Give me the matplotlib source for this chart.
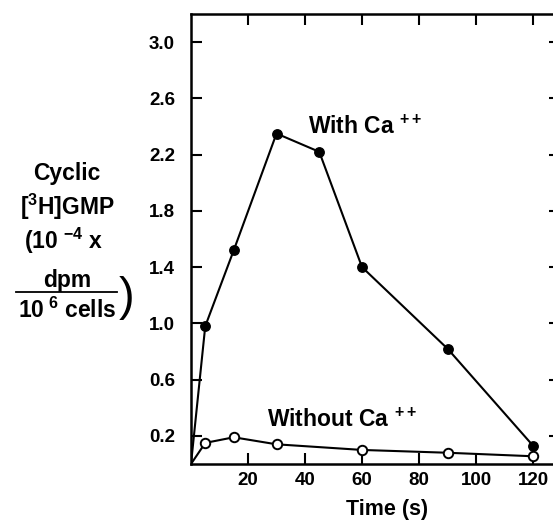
import matplotlib
matplotlib.use('Agg')
import matplotlib.pyplot as plt
from matplotlib.lines import Line2D

plt.rcParams['font.family'] = ['Liberation Sans', 'DejaVu Sans']
plt.rcParams['font.weight'] = 'bold'
plt.rcParams['axes.labelweight'] = 'bold'
plt.rcParams['mathtext.fontset'] = 'custom'
plt.rcParams['mathtext.rm'] = 'Liberation Sans:bold'
plt.rcParams['mathtext.it'] = 'Liberation Sans:bold'
plt.rcParams['mathtext.bf'] = 'Liberation Sans:bold'

# cyclic [3H]GMP (10^-4 x dpm / 10^6 cells) over time (s)
time_s = [0, 5, 15, 30, 45, 60, 90, 120]
with_ca = [0.0, 0.98, 1.52, 2.35, 2.22, 1.40, 0.82, 0.13]
time_s_no_ca = [0, 5, 15, 30, 60, 90, 120]
without_ca = [0.0, 0.15, 0.19, 0.14, 0.10, 0.08, 0.055]

x_ticks = [20, 40, 60, 80, 100, 120]
y_ticks = [0.2, 0.6, 1.0, 1.4, 1.8, 2.2, 2.6, 3.0]

fig = plt.figure(figsize=(5.53, 5.2), dpi=100)
W, H = 553, 520
ax = fig.add_axes([191 / W, 1 - 464 / H, 362 / W, 450 / H])

ax.plot(time_s, with_ca, color='black', lw=1.5, marker='o', ms=6.8,
        markevery=slice(1, None), mfc='black', mec='black')
ax.plot(time_s_no_ca, without_ca, color='black', lw=1.5, marker='o', ms=6.8,
        markevery=slice(1, None), mfc='white', mec='black', mew=1.4)

ax.set_xlim(0, 127)
ax.set_ylim(0, 3.2)
ax.set_xticks(x_ticks)
ax.set_yticks(y_ticks)
ax.set_yticklabels(['%.1f' % v for v in y_ticks])

for s in ['left', 'bottom', 'top']:
    ax.spines[s].set_linewidth(1.8)
ax.spines['right'].set_visible(False)

ax.tick_params(axis='both', direction='in', labelsize=13.5, width=1.5)
ax.tick_params(axis='x', length=8, pad=6, top=True)
ax.tick_params(axis='y', length=8, pad=11.5, right=True)
for t in ax.yaxis.get_ticklines()[1::2]:
    t.set_markersize(3)

ax.set_xlabel('Time (s)', fontsize=15.5)
ax.xaxis.set_label_coords(196 / 362, -(510 - 464) / 450, transform=ax.transAxes)
ax.xaxis.label.set_va('center')

ax.text(41, 2.345, 'With Ca $^{++}$', fontsize=16.5, ha='left', va='baseline')
ax.text(26.7, 0.263, 'Without Ca $^{++}$', fontsize=16.5, ha='left', va='baseline')

# y label block
def px(x, y):
    return x / W, 1 - y / H

lab = dict(fontsize=16.5, ha='center', va='center')
fig.text(*px(67, 174), 'Cyclic', **lab)
fig.text(*px(67, 207), '[$^3$H]GMP', **lab)
fig.text(*px(64, 241), '(10 $^{-4}$ x', **lab)
fig.text(*px(67, 280), 'dpm', **lab)
fig.text(*px(67, 310), '10$^{\\ 6}$ cells', **lab)
fig.add_artist(Line2D([16 / W, 117 / W], [1 - 292 / H, 1 - 292 / H],
                      color='black', lw=1.3, transform=fig.transFigure))
fig.text(*px(127, 298), ')', fontsize=34, ha='center', va='center', weight='normal')

fig.savefig('out.png', dpi=100)
